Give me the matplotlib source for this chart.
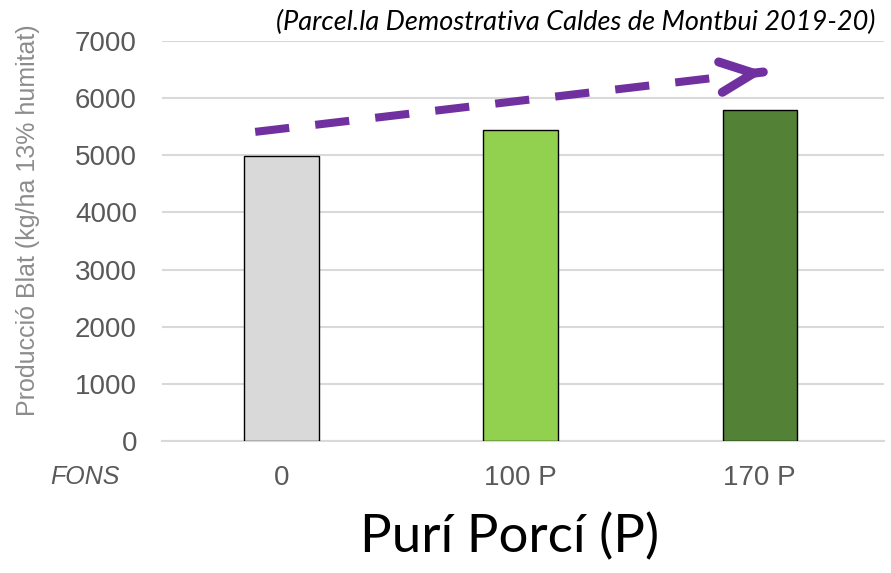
import numpy as np
import matplotlib.pyplot as plt

# data
categories = ['0', '100 P', '170 P']
produccio = [4990, 5450, 5790]
bar_colors = ['#D9D9D9', '#92D050', '#538135']
yticks = [0, 1000, 2000, 3000, 4000, 5000, 6000, 7000]

# trend arrow (data coords)
arrow_start = (-0.11, 5410)
arrow_dash_end = (1.80, 6350)
arrow_tip = (2.02, 6460)

fig = plt.figure(figsize=(8.91, 5.73), dpi=100)
ax = fig.add_axes([0.1818, 0.2304, 0.992 - 0.1818, 0.9284 - 0.2304])

x = np.arange(len(categories))
ax.bar(x, produccio, width=0.31, color=bar_colors, edgecolor='black', linewidth=1.0, zorder=3)

ax.set_xlim(-0.5, 2.52)
ax.set_ylim(0, 7000)
ax.set_yticks(yticks)
ax.set_yticklabels([str(v) for v in yticks])
ax.set_xticks(x)
ax.set_xticklabels(categories)
ax.grid(axis='y', color='#D9D9D9', linewidth=1.5, zorder=0)
ax.set_axisbelow(True)
for s in ['top', 'right', 'left']:
    ax.spines[s].set_visible(False)
ax.spines['bottom'].set_color('#D9D9D9')
ax.spines['bottom'].set_linewidth(1.5)
ax.tick_params(axis='both', length=0, labelsize=20, colors='#595959',
               labelfontfamily='Liberation Sans')
ax.tick_params(axis='y', pad=18)
ax.tick_params(axis='x', pad=17)

# dashed trend line + open arrow head
ax.plot([arrow_start[0], arrow_dash_end[0]], [arrow_start[1], arrow_dash_end[1]],
        color='#7030A0', linewidth=5.8, linestyle=(0, (4.25, 3.25)),
        solid_capstyle='butt', dash_capstyle='butt', zorder=4)
dx = arrow_tip[0] - arrow_dash_end[0]
dy = arrow_tip[1] - arrow_dash_end[1]
ax.annotate('', xy=arrow_tip, xytext=(arrow_tip[0] - dx * 0.02, arrow_tip[1] - dy * 0.02),
            arrowprops=dict(arrowstyle='->, head_length=24, head_width=11',
                            mutation_scale=1, color='#7030A0', linewidth=6.5,
                            shrinkA=0, shrinkB=0, capstyle='round'),
            zorder=4)

fig.text(576 / 891, 1 - 22 / 573, '(Parcel.la Demostrativa Caldes de Montbui 2019-20)',
         ha='center', va='center', fontsize=19.5, style='italic', family='Lato', color='black')
fig.text(28 / 891, 1 - 220 / 573, 'Producció Blat (kg/ha 13% humitat)', rotation=90,
         ha='center', va='center', fontsize=18, color='#8C8C8C', family='Liberation Sans')
fig.text(85 / 891, 1 - 477 / 573, 'FONS', ha='center', va='center', fontsize=18,
         style='italic', color='#595959', family='Liberation Sans')
fig.text(510 / 891, 1 - 537 / 573, 'Purí Porcí (P)', ha='center', va='center',
         fontsize=38, family='Lato', color='black')

fig.savefig('out.png', dpi=100)
